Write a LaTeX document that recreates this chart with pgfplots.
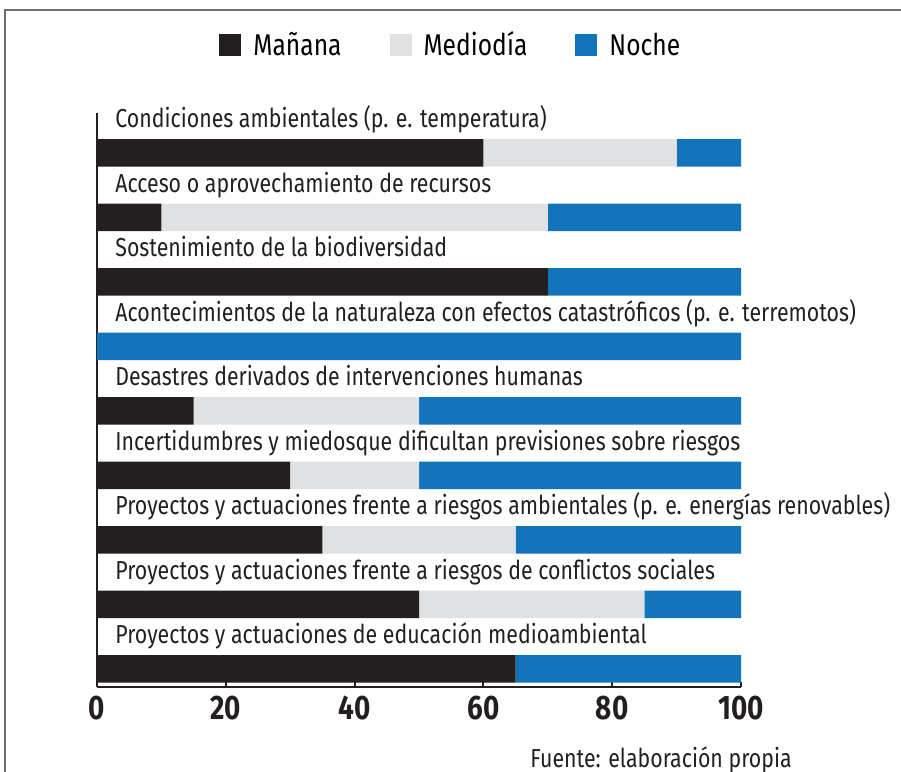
\documentclass[border=0pt]{standalone}
\usepackage{fontspec}
\setmainfont{Fira Sans}[FakeStretch=0.82]
\usepackage{pgfplots}
\usepackage{pgfplotstable}
\pgfplotsset{compat=1.18}
\definecolor{cmanana}{HTML}{231F20}
\definecolor{cmediodia}{HTML}{E0E1E3}
\definecolor{cnoche}{HTML}{1173BA}
\definecolor{marco}{HTML}{6D6E71}
\tikzset{cat/.style={anchor=base west, xshift=9pt, inner sep=0pt,
    font=\fontsize{13}{15}\selectfont, text=cmanana}}

% y = 8 - posicion (la primera categoria arriba)
\pgfplotstableread{
y man med noc
8 60 30 10
7 10 60 30
6 70 0 30
5 0 0 100
4 15 35 50
3 30 20 50
2 35 30 35
1 50 35 15
0 65 0 35
}\datos

\begin{document}
\begin{tikzpicture}
\begin{axis}[
    at={(0,0)}, anchor=south west,
    width=322pt, height=287pt, scale only axis,
    clip=false,
    xbar stacked, bar width=13.75pt,
    xmin=0, xmax=100, ymin=-0.28, ymax=8.62,
    axis x line*=bottom, axis y line*=left,
    axis line style={line width=1pt, cmanana},
    ytick=\empty,
    xtick={0,20,...,100},
    tick align=inside, major tick length=2.5pt,
    tick style={line width=1pt, cmanana},
    /pgf/number format/assume math mode=true,
    tick label style={font=\bfseries\fontsize{17}{19}\selectfont, text=cmanana},
    xticklabel style={yshift=-1pt},
    legend style={at={(0.551,1.118)}, anchor=center, draw=none, fill=none,
        legend columns=3, font=\fontsize{15}{17}\selectfont,
        /tikz/every odd column/.append style={column sep=4pt},
        /tikz/every even column/.append style={column sep=22pt}},
    legend image code/.code={\fill[#1] (0pt,-5.5pt) rectangle (11pt,5.5pt);},
]
\addplot[fill=cmanana, draw=none] table[x=man, y=y]{\datos};
\addplot[fill=cmediodia, draw=none] table[x=med, y=y]{\datos};
\addplot[fill=cnoche, draw=none] table[x=noc, y=y]{\datos};
\legend{Mañana, Mediodía, Noche}

\node[cat] at (axis cs:0,8.39) {Condiciones ambientales (p. e. temperatura)};
\node[cat] at (axis cs:0,7.39) {Acceso o aprovechamiento de recursos};
\node[cat] at (axis cs:0,6.39) {Sostenimiento de la biodiversidad};
\node[cat] at (axis cs:0,5.39) {Acontecimientos de la naturaleza con efectos catastróficos (p. e. terremotos)};
\node[cat] at (axis cs:0,4.39) {Desastres derivados de intervenciones humanas};
\node[cat] at (axis cs:0,3.39) {Incertidumbres y miedosque dificultan previsiones sobre riesgos};
\node[cat] at (axis cs:0,2.39) {Proyectos y actuaciones frente a riesgos ambientales (p. e. energías renovables)};
\node[cat] at (axis cs:0,1.39) {Proyectos y actuaciones frente a riesgos de conflictos sociales};
\node[cat] at (axis cs:0,0.39) {Proyectos y actuaciones de educación medioambiental};
\end{axis}
\pgfresetboundingbox
\path[use as bounding box] (-48.5pt,-42.5pt) rectangle (402pt,343.5pt);
\draw[marco, line width=1pt] (-46pt,-42.5pt) -- (-46pt,338.5pt) -- (402pt,338.5pt);
\node[anchor=base east, inner sep=0pt, font=\fontsize{13}{15}\selectfont, text=cmanana]
    at (347.5pt,-40pt) {Fuente: elaboración propia};
\end{tikzpicture}
\end{document}
